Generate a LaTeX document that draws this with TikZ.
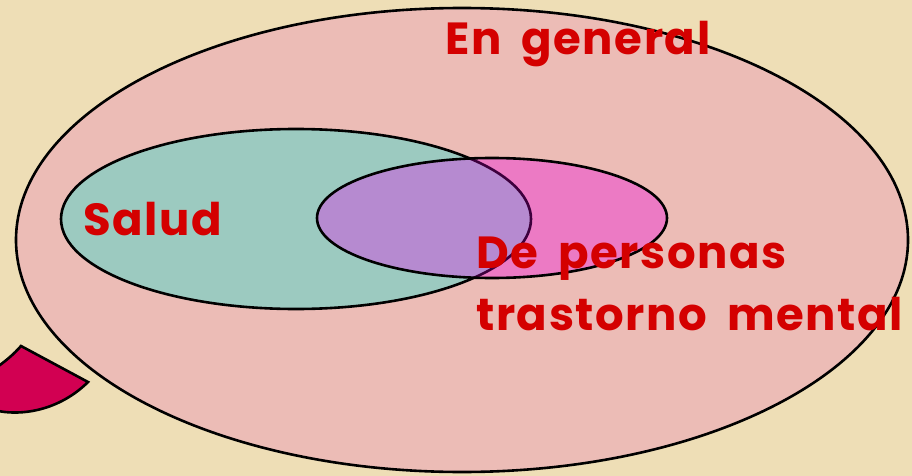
\documentclass[tikz,border=0pt]{standalone}
\usepackage{fontspec}
\setmainfont{Poppins}[LetterSpace=3.5, WordSpace=1.8]
\usepackage{tikz}
\usetikzlibrary{positioning}
\definecolor{parchment}{RGB}{238,222,182}
\definecolor{generalpink}{RGB}{236,188,182}
\definecolor{saludteal}{RGB}{156,202,192}
\definecolor{mentalpink}{RGB}{236,122,196}
\definecolor{overlapviolet}{RGB}{182,138,208}
\definecolor{labelred}{RGB}{212,0,0}
\definecolor{wedgecrimson}{RGB}{210,0,82}
\tikzset{
    setline/.style={draw=black, line width=2.6pt},
    setlabel/.style={text=labelred, font=\bfseries\fontsize{45}{50}\selectfont, inner sep=0pt, anchor=base west}
}

\begin{document}
\begin{tikzpicture}[x=1pt, y=-1pt]
            \useasboundingbox (0,0) rectangle (912,476);
            \fill[parchment] (0,0) rectangle (912,476);
            \coordinate (gen) at (462,240);
            \coordinate (sal) at (296,219);
            \coordinate (tm) at (492,218);
            % the three sets
            \path[setline, fill=generalpink] (gen) ellipse [x radius=446pt, y radius=232pt];
            \path[setline, fill=saludteal] (sal) ellipse [x radius=235pt, y radius=90pt];
            \path[fill=mentalpink] (tm) ellipse [x radius=175pt, y radius=60pt];
            \begin{scope}
                \clip (tm) ellipse [x radius=175pt, y radius=60pt];
                \path[fill=overlapviolet, draw=black!40!violet!80!black, line width=2.6pt] (sal) ellipse [x radius=235pt, y radius=90pt];
            \end{scope}
            \draw[setline] (tm) ellipse [x radius=175pt, y radius=60pt];
            % wedge at the lower left
            \draw[setline, fill=wedgecrimson] (-10,372) .. controls (5,362) and (14,354) .. (21,346)
                -- (88,382) .. controls (60,410) and (20,418) .. (-10,409) -- cycle;
            \node[setlabel] (general) at (445,55) {En general};
            \node[setlabel] (salud) at (83,235) {Salud};
            \node[setlabel] (personas) at (476,268) {De personas};
            \node[setlabel] (trastorno) at (476,330) {trastorno mental};
        \end{tikzpicture}
\end{document}
